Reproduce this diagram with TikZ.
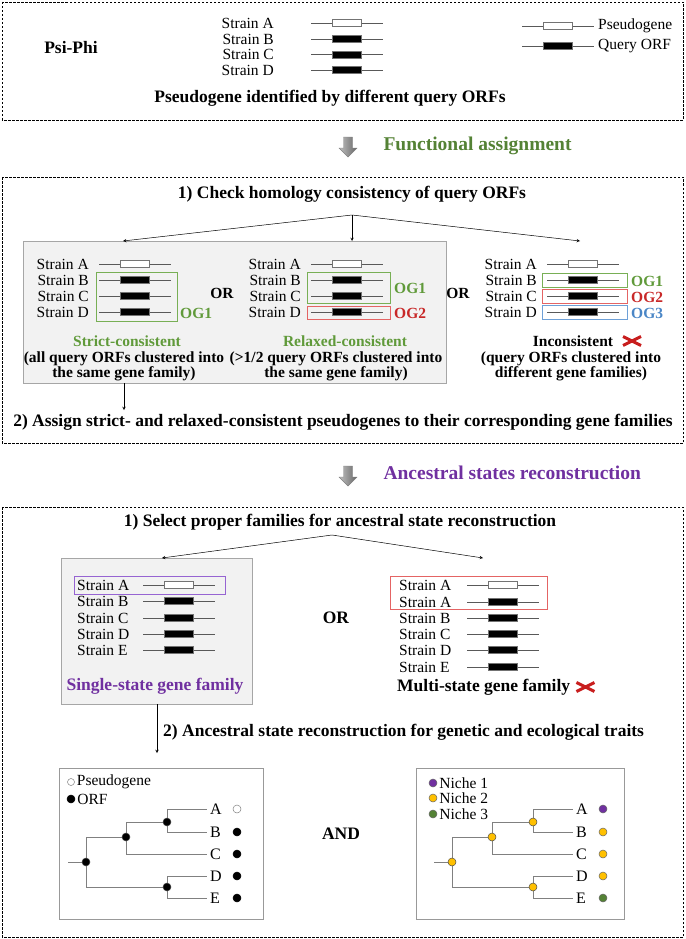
\documentclass[tikz,border=0pt]{standalone}
\usepackage{fontspec}
\setmainfont{Liberation Serif}
\usetikzlibrary{arrows,positioning,calc}

\definecolor{fagreen}{RGB}{84,130,53}
\definecolor{oggreen}{RGB}{96,154,58}
\definecolor{boxgreen}{RGB}{120,175,85}
\definecolor{ogred}{RGB}{200,40,40}
\definecolor{boxred}{RGB}{228,100,100}
\definecolor{ogblue}{RGB}{74,134,198}
\definecolor{boxblue}{RGB}{110,160,215}
\definecolor{aspurple}{RGB}{112,48,160}
\definecolor{boxpurple}{RGB}{150,100,210}
\definecolor{nicheorange}{RGB}{255,192,0}
\definecolor{panelgray}{RGB}{242,242,242}
\definecolor{xred}{RGB}{200,30,30}

% gene icon: start x, row y, box fill
\newcommand{\genebar}[3]{%
  \draw[geneline] (#1,#2) -- ++(72,0);
  \draw[genebox,fill=#3] (#1+21,#2-3.5) rectangle ++(29,7);}

% small cladogram: prefix, x shift, inner node fill, leaves
\newcommand{\phylo}[4]{%
  \begin{scope}[xshift=#2]
    \coordinate (#1stub) at (68,862);
    \coordinate (#1r) at (86,862);
    \coordinate (#1u) at (126,837);
    \coordinate (#1ab) at (167,822);
    \coordinate (#1de) at (167,887);
    \foreach \l/\y/\f/\dc in {#4}{
      \node[leaf] (#1\l) at (207,\y) {\l};
      \node[dot, fill=\f, draw=\dc] (#1dot\l) at (237,\y) {};
    }
    \draw[treeline] (#1stub) -- (#1r) |- (#1u) (#1r) |- (#1de)
      (#1u) |- (#1ab) (#1u) |- (#1C) (#1ab) |- (#1A) (#1ab) |- (#1B)
      (#1de) |- (#1D) (#1de) |- (#1E);
    \foreach \n in {r,u,ab,de}
      \node[dot, fill=#3, draw=black!70] (#1n\n) at (#1\n) {};
  \end{scope}}

\tikzset{
  bigdown/.pic={\shade[left color=black!25, right color=black!60, draw=black!50, line width=0.4pt]
    (-4.5,-10) -- (4.5,-10) -- (4.5,1) -- (9,1) -- (0,10) -- (-9,1) -- (-4.5,1) -- cycle;},
  nocross/.pic={\draw[xred, line width=3pt] (-9,-4.5) -- (9,4.5) (-9,4.5) -- (9,-4.5);}
}

\begin{document}
\begin{tikzpicture}[x=1pt,y=-1pt,>=stealth,
  panel/.style={draw, dash pattern=on 2.5pt off 1.5pt, line width=0.8pt},
  graypanel/.style={draw=black!35, fill=panelgray, line width=0.8pt},
  treepanel/.style={draw=black!40, line width=0.8pt},
  geneline/.style={draw=black!65, line width=0.7pt},
  genebox/.style={draw=black!55, line width=0.6pt},
  strain/.style={font=\fontsize{15.5}{15.5}\selectfont, inner sep=1pt},
  head/.style={font=\bfseries\fontsize{17.5}{17.5}\selectfont, inner sep=1pt},
  stage/.style={font=\bfseries\fontsize{19.5}{19.5}\selectfont, anchor=west},
  sub/.style={font=\bfseries\fontsize{15.5}{13}\selectfont, align=center, inner sep=1pt},
  og/.style={font=\bfseries\fontsize{15.5}{15.5}\selectfont, anchor=west, inner sep=1pt},
  link/.style={->, line width=0.5pt},
  dot/.style={circle, inner sep=0pt, minimum size=8pt, line width=0.5pt},
  leaf/.style={anchor=west, inner sep=3pt, font=\fontsize{16}{16}\selectfont},
  treeline/.style={draw=black!50, line width=0.8pt}]
\useasboundingbox (0,0) rectangle (685,939);

% Psi-Phi panel
\draw[panel] (2,2) rectangle (683,120);
\node[head] (psiphi) at (71,48) {Psi-Phi};
\foreach \s/\y/\f in {A/23/white,B/39/black,C/54.5/black,D/70/black}{
  \node[strain, anchor=east] (top\s) at (275,\y) {Strain \s};
  \genebar{311}{\y}{\f}
}
\genebar{522}{26}{white}
\node[strain, anchor=west] (lgpseudo) at (597,26) {Pseudogene};
\genebar{522}{46}{black}
\node[strain, anchor=west] (lgorf) at (597,46) {Query ORF};
\node[head] (pidb) at (330,98) {Pseudogene identified by different query ORFs};

\pic at (348,147) {bigdown};
\node[stage, text=fagreen] (funcas) at (380,146) {Functional assignment};

% functional assignment panel
\draw[panel] (2,177) rectangle (683,443);
\node[head] (check) at (352,194) {1) Check homology consistency of query ORFs};
\coordinate (split1) at (352,215);
\coordinate (toStrict) at (123,241);
\coordinate (toRelax) at (352,241);
\coordinate (toIncon) at (580,241);
\draw[graypanel] (23,241) rectangle (446,383);
\draw[link] (split1) -- (toStrict);
\draw[link] (split1) -- (toRelax);
\draw[link] (split1) -- (toIncon);

\foreach \s/\y/\f in {A/264/white,B/280/black,C/296/black,D/312/black}{
  \node[strain, anchor=east] (st\s) at (90,\y) {Strain \s};
  \genebar{99}{\y}{\f}
  \node[strain, anchor=east] (rx\s) at (302,\y) {Strain \s};
  \genebar{311}{\y}{\f}
  \node[strain, anchor=east] (ic\s) at (538,\y) {Strain \s};
  \genebar{547}{\y}{\f}
}
\draw[boxgreen, line width=0.8pt] (96,272) rectangle (177,321);
\node[og, text=oggreen] (stOG1) at (179,313) {OG1};
\node[og, anchor=center] (or1) at (222,293) {OR};
\node[sub, text=oggreen] (strict) at (127,341) {Strict-consistent};
\node[sub] (strictnote) at (124,366) {(all query ORFs clustered into\\the same gene family)};

\draw[boxgreen, line width=0.8pt] (307,272) rectangle (390,303);
\draw[boxred, line width=0.8pt] (307,306) rectangle (390,319);
\node[og, text=oggreen] (rxOG1) at (393,288) {OG1};
\node[og, text=ogred] (rxOG2) at (393,313) {OG2};
\node[sub, text=oggreen] (relaxed) at (345,341) {Relaxed-consistent};
\node[sub] (relaxednote) at (336,366) {(>1/2 query ORFs clustered into\\the same gene family)};

\node[og, anchor=center] (or2) at (458,293) {OR};

\draw[boxgreen, line width=0.8pt] (542,273) rectangle (627,287);
\draw[boxred, line width=0.8pt] (542,289) rectangle (627,303);
\draw[boxblue, line width=0.8pt] (542,305) rectangle (627,319);
\node[og, text=oggreen] (icOG1) at (630,281) {OG1};
\node[og, text=ogred] (icOG2) at (630,297) {OG2};
\node[og, text=ogblue] (icOG3) at (630,313) {OG3};
\node[sub] (incon) at (573,341) {Inconsistent};
\pic at (632,341) {nocross};
\node[sub] (inconnote) at (571,366) {(query ORFs clustered into\\different gene families)};

\coordinate (grayBottom) at (124,383);
\coordinate (assignTop) at (124,410);
\draw[link] (grayBottom) -- (assignTop);
\node[head] (assign) at (343,422) {2) Assign strict- and relaxed-consistent pseudogenes to their corresponding gene families};

\pic at (348,476) {bigdown};
\node[stage, text=aspurple] (ancrec) at (380,473) {Ancestral states reconstruction};

% ancestral states panel
\draw[panel] (2,507) rectangle (683,937);
\node[head] (select) at (340,522) {1) Select proper families for ancestral state reconstruction};
\coordinate (split2) at (332,535);
\coordinate (toSingle) at (162,558);
\coordinate (toMulti) at (483,558);
\draw[graypanel] (61,558) rectangle (252,704);
\draw[link] (split2) -- (toSingle);
\draw[link] (split2) -- (toMulti);

\foreach \s/\y/\f in {A/585/white,B/601/black,C/618/black,D/634/black,E/650/black}{
  \node[strain, anchor=west] (ss\s) at (76,\y) {Strain \s};
  \genebar{143}{\y}{\f}
}
\draw[boxpurple, line width=0.8pt] (74,576) rectangle (225,594);
\node[head, text=aspurple] (single) at (155,686) {Single-state gene family};
\node[head] (or3) at (336,618) {OR};

\foreach \s/\y/\f [count=\k] in {A/585/white,A/602/black,B/618/black,C/634/black,D/650/black,E/667/black}{
  \node[strain, anchor=west] (ms\k) at (398,\y) {Strain \s};
  \genebar{467}{\y}{\f}
}
\draw[boxred, line width=0.8pt] (390,576) rectangle (547,609);
\node[head, anchor=west] (multi) at (396,687) {Multi-state gene family};
\pic at ([xshift=14pt]multi.east) {nocross};

\coordinate (singleBottom) at (157,704);
\coordinate (treeTop) at (157,753);
\draw[link] (singleBottom) -- (treeTop);
\node[head, anchor=west] (asr) at (162,732) {2) Ancestral state reconstruction for genetic and ecological traits};

\draw[treepanel] (59,768) rectangle (263,919);
\node[dot, fill=white, draw=black!50, minimum size=7pt] (lgP) at (71,782) {};
\node[strain, anchor=west, right=1pt of lgP] (lgPt) {Pseudogene};
\node[dot, fill=black, draw=black] (lgO) at (71,799) {};
\node[strain, anchor=west, right=1pt of lgO] (lgOt) {ORF};
\phylo{L}{0}{black}{A/809/white/black!50,B/832/black/black,C/854/black/black,D/876/black/black,E/898/black/black}

\node[head] (and) at (341,834) {AND};

\draw[treepanel] (416,768) rectangle (624,919);
\node[dot, fill=aspurple, draw=black!60] (lg1) at (433,783) {};
\node[strain, anchor=west, right=1pt of lg1] (lg1t) {Niche 1};
\node[dot, fill=nicheorange, draw=black!60] (lg2) at (433,798) {};
\node[strain, anchor=west, right=1pt of lg2] (lg2t) {Niche 2};
\node[dot, fill=fagreen, draw=black!60] (lg3) at (433,814) {};
\node[strain, anchor=west, right=1pt of lg3] (lg3t) {Niche 3};
\phylo{R}{366}{nicheorange}{A/809/aspurple/black!60,B/832/nicheorange/black!60,C/854/nicheorange/black!60,D/876/nicheorange/black!60,E/898/fagreen/black!60}
\end{tikzpicture}
\end{document}
